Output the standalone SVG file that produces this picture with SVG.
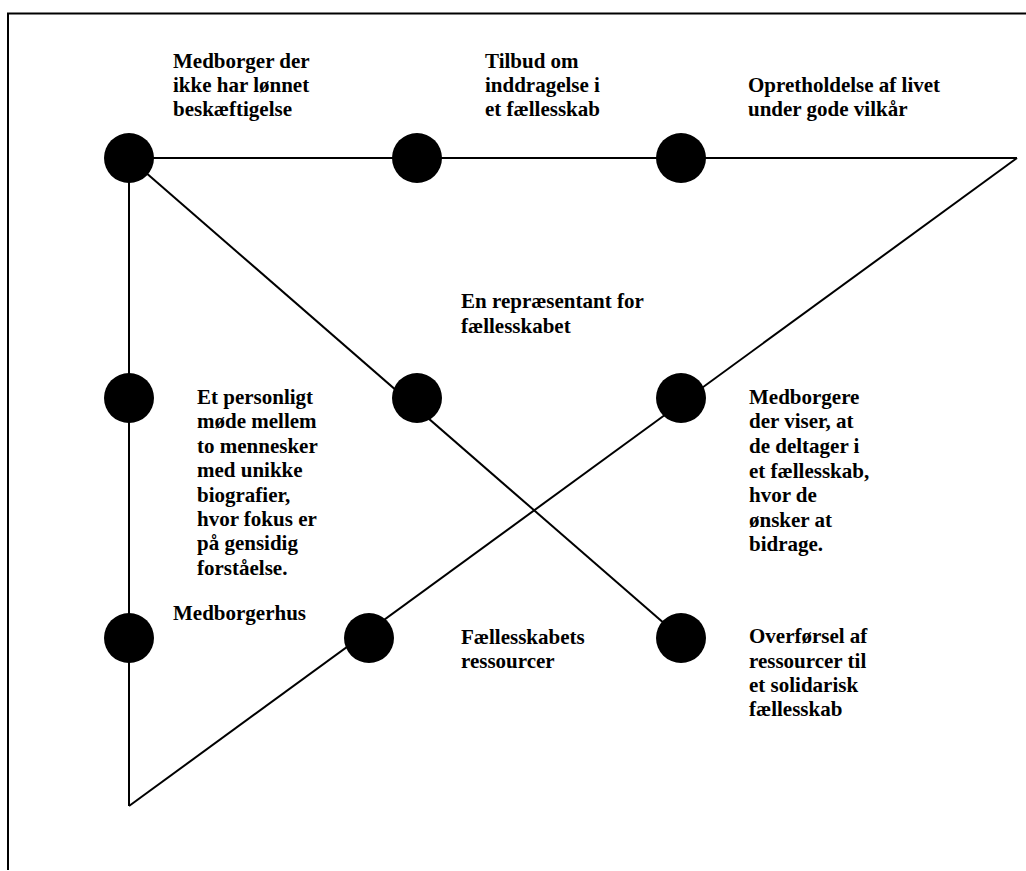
<svg xmlns="http://www.w3.org/2000/svg" width="1026" height="871" viewBox="0 0 1026 871">
<style>
.ln{stroke:#000;stroke-width:2;fill:none}
.nd{fill:#000}
.t{font-family:"Liberation Serif","Times New Roman",serif;font-weight:bold;font-size:21px;fill:#000}
</style>
<rect width="1026" height="871" fill="#fff"/>
<g id="frame">
<path class="ln" d="M8,870 V13.5 H1026"/>
</g>
<g id="connectors">
<line class="ln" x1="129" y1="158" x2="1017" y2="158"/>
<line class="ln" x1="1017" y1="158" x2="129" y2="806"/>
<line class="ln" x1="129" y1="158" x2="129" y2="806"/>
<line class="ln" x1="129" y1="158" x2="681" y2="638"/>
</g>
<g id="n1"><circle class="nd" cx="129" cy="158" r="25"/>
<text class="t" x="173" y="68">Medborger der</text><text class="t" x="173" y="92">ikke har lønnet</text><text class="t" x="173" y="116">beskæftigelse</text></g>
<g id="n2"><circle class="nd" cx="417" cy="158" r="25"/>
<text class="t" x="485" y="68">Tilbud om</text><text class="t" x="485" y="92">inddragelse i</text><text class="t" x="485" y="116">et fællesskab</text></g>
<g id="n3"><circle class="nd" cx="681" cy="158" r="25"/>
<text class="t" x="748" y="92">Opretholdelse af livet</text><text class="t" x="748" y="116">under gode vilkår</text></g>
<g id="n4"><circle class="nd" cx="417" cy="398" r="25"/>
<text class="t" x="461" y="308">En repræsentant for</text><text class="t" x="461" y="333">fællesskabet</text></g>
<g id="n5"><circle class="nd" cx="129" cy="398" r="25"/>
<text class="t" x="197" y="404">Et personligt</text><text class="t" x="197" y="428">møde mellem</text><text class="t" x="197" y="453">to mennesker</text><text class="t" x="197" y="477">med unikke</text><text class="t" x="197" y="502">biografier,</text><text class="t" x="197" y="526">hvor fokus er</text><text class="t" x="197" y="550">på gensidig</text><text class="t" x="197" y="575">forståelse.</text></g>
<g id="n6"><circle class="nd" cx="681" cy="398" r="25"/>
<text class="t" x="749" y="404">Medborgere</text><text class="t" x="749" y="428">der viser, at</text><text class="t" x="749" y="453">de deltager i</text><text class="t" x="749" y="478">et fællesskab,</text><text class="t" x="749" y="502">hvor de</text><text class="t" x="749" y="527">ønsker at</text><text class="t" x="749" y="551">bidrage.</text></g>
<g id="n7"><circle class="nd" cx="129" cy="638" r="25"/>
<text class="t" x="173" y="620">Medborgerhus</text></g>
<g id="n8"><circle class="nd" cx="369" cy="638" r="25"/>
<text class="t" x="461" y="644">Fællesskabets</text><text class="t" x="461" y="668">ressourcer</text></g>
<g id="n9"><circle class="nd" cx="681" cy="638" r="25"/>
<text class="t" x="749" y="643">Overførsel af</text><text class="t" x="749" y="668">ressourcer til</text><text class="t" x="749" y="692">et solidarisk</text><text class="t" x="749" y="716">fællesskab</text></g>
</svg>
